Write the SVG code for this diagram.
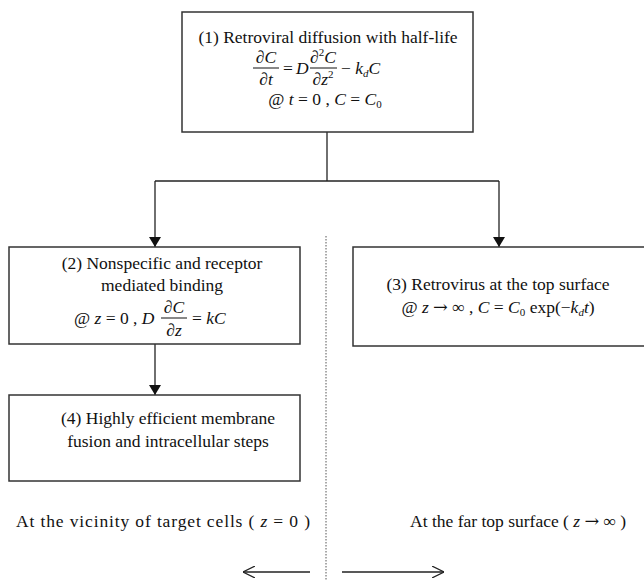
<svg xmlns="http://www.w3.org/2000/svg" width="644" height="580" viewBox="0 0 644 580">
<style>
text{font-family:"Liberation Serif","Times New Roman",serif;font-size:17.5px;fill:#111;}
.i{font-style:italic;}
.s{font-size:11px;}
.ar{font-family:"DejaVu Serif",serif;}
.box{fill:#fff;stroke:#333;stroke-width:1.5;}
.ln{stroke:#222;stroke-width:1.3;fill:none;}
.fr{stroke:#111;stroke-width:1;}
.dot{stroke:#555;stroke-width:1;stroke-dasharray:1.5 1.5;fill:none;}
</style>
<defs>
<marker id="ah" viewBox="0 0 10 12" refX="10" refY="6" markerWidth="12" markerHeight="12" markerUnits="userSpaceOnUse" orient="auto">
<path d="M0,0 L10,6 L0,12 z" fill="#111"/>
</marker>
<marker id="oa" viewBox="0 0 10 10" refX="10" refY="5" markerWidth="12" markerHeight="12" markerUnits="userSpaceOnUse" orient="auto">
<path d="M0,0 L10,5 L0,10" fill="none" stroke="#222" stroke-width="1"/>
</marker>
</defs>
<rect width="644" height="580" fill="#fff"/>

<line class="dot" x1="326" y1="236" x2="326" y2="580"/>

<g id="connectors">
<path class="ln" d="M327,132 V181"/>
<path class="ln" d="M155,181 H499"/>
<path class="ln" d="M155,181 V247" marker-end="url(#ah)"/>
<path class="ln" d="M499,181 V247" marker-end="url(#ah)"/>
<path class="ln" d="M155,344 V395" marker-end="url(#ah)"/>
<path class="ln" d="M310,572 H243" marker-end="url(#oa)"/>
<path class="ln" d="M342,572 H444" marker-end="url(#oa)"/>
</g>

<g id="node1">
<rect class="box" x="182" y="12" width="291" height="120"/>
<text x="328" y="43" text-anchor="middle">(1) Retroviral diffusion with half-life</text>
<text x="266" y="63" text-anchor="middle" class="i">∂C</text>
<line class="fr" x1="253" y1="68" x2="279" y2="68"/>
<text x="266" y="85" text-anchor="middle" class="i">∂t</text>
<text x="283" y="74">=</text>
<text x="296" y="74" class="i">D</text>
<text x="323" y="63" text-anchor="middle" class="i">∂<tspan font-style="normal" class="s" dy="-7">2</tspan><tspan dy="7">C</tspan></text>
<line class="fr" x1="310" y1="68" x2="337" y2="68"/>
<text x="323" y="85" text-anchor="middle" class="i">∂z<tspan font-style="normal" class="s" dy="-7">2</tspan></text>
<text x="341" y="74">− <tspan class="i">k</tspan><tspan class="i s" dy="3">d</tspan><tspan class="i" dy="-3">C</tspan></text>
<text x="325" y="105" text-anchor="middle">@ <tspan class="i">t</tspan> = 0 ,  <tspan class="i">C</tspan> = <tspan class="i">C</tspan><tspan class="s" dy="3">0</tspan></text>
</g>

<g id="node2">
<rect class="box" x="9" y="247" width="291" height="97"/>
<text x="162" y="269" text-anchor="middle">(2) Nonspecific and receptor</text>
<text x="162" y="291" text-anchor="middle">mediated binding</text>
<text x="74" y="324">@ <tspan class="i">z</tspan> = 0 ,  <tspan class="i">D</tspan></text>
<text x="174" y="313" text-anchor="middle" class="i">∂C</text>
<line class="fr" x1="161" y1="318" x2="187" y2="318"/>
<text x="174" y="336" text-anchor="middle" class="i">∂z</text>
<text x="192" y="324">= <tspan class="i">kC</tspan></text>
</g>

<g id="node3">
<rect class="box" x="353" y="247" width="300" height="99"/>
<text x="498" y="290" text-anchor="middle">(3) Retrovirus at the top surface</text>
<text x="498" y="313" text-anchor="middle">@ <tspan class="i">z</tspan> <tspan class="ar">→</tspan> ∞ ,  <tspan class="i">C</tspan> = <tspan class="i">C</tspan><tspan class="s" dy="3">0</tspan><tspan dy="-3"> exp(−</tspan><tspan class="i">k</tspan><tspan class="i s" dy="3">d</tspan><tspan class="i" dy="-3">t</tspan>)</text>
</g>

<g id="node4">
<rect class="box" x="9" y="395" width="291" height="86"/>
<text x="168" y="424" text-anchor="middle">(4) Highly efficient membrane</text>
<text x="168" y="447" text-anchor="middle">fusion and intracellular steps</text>
</g>

<text x="16" y="527" font-size="19" textLength="294" lengthAdjust="spacing">At the vicinity of target cells ( <tspan class="i">z</tspan> = 0 )</text>
<text x="410" y="527" font-size="17">At the far top surface ( <tspan class="i">z</tspan> <tspan class="ar">→</tspan> ∞ )</text>
</svg>
